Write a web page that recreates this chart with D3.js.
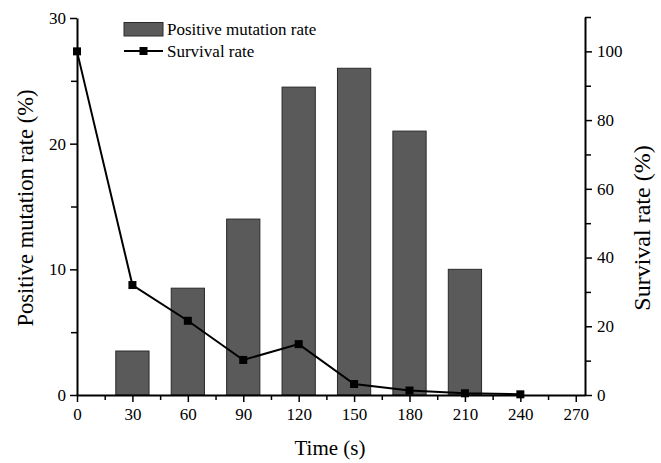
<!DOCTYPE html>
<html>
<head>
<meta charset="utf-8">
<script src="https://cdn.jsdelivr.net/npm/d3@7"></script>
<style>
  body { margin: 0; background: #fff; }
</style>
</head>
<body>
<svg id="chart" width="661" height="463" font-family="Liberation Serif"></svg>
<script>
// Data
const times = [0, 30, 60, 90, 120, 150, 180, 210, 240];
const barTimes = [30, 60, 90, 120, 150, 180, 210];
const mutationRate = [3.5, 8.5, 14.0, 24.5, 26.0, 21.0, 10.0];
const survivalRate = [100, 32, 21.6, 10.2, 14.8, 3.2, 1.3, 0.5, 0.2];
const xTicks = [0, 30, 60, 90, 120, 150, 180, 210, 240, 270];
const leftTicks = [0, 10, 20, 30];
const rightTicks = [0, 20, 40, 60, 80, 100];

const FONT = 'Liberation Serif';
const svg = d3.select('#chart');
const plot = { left: 77, right: 585, top: 17, bottom: 395 };

const x = d3.scaleLinear().domain([0, 275]).range([plot.left, plot.right]);
const yL = d3.scaleLinear().domain([0, 30]).range([plot.bottom, 18]);
const yR = d3.scaleLinear().domain([0, 110]).range([plot.bottom, plot.top]);

const barW = x(18) - x(0);

// Bars
svg.append('g')
  .selectAll('rect')
  .data(barTimes)
  .join('rect')
  .attr('x', (d) => x(d) - barW / 2)
  .attr('width', barW)
  .attr('y', (d, i) => yL(mutationRate[i]))
  .attr('height', (d, i) => plot.bottom - yL(mutationRate[i]))
  .attr('fill', '#5a5a5a')
  .attr('stroke', '#2a2a2a')
  .attr('stroke-width', 1);

// Survival line
const pts = times.map((t, i) => [t, survivalRate[i]]);
svg.append('path')
  .datum(pts)
  .attr('fill', 'none')
  .attr('stroke', '#000')
  .attr('stroke-width', 2)
  .attr('d', d3.line().x((d) => x(d[0])).y((d) => yR(d[1])));

svg.append('g')
  .selectAll('rect')
  .data(pts)
  .join('rect')
  .attr('x', (d) => x(d[0]) - 4)
  .attr('y', (d) => yR(d[1]) - 4)
  .attr('width', 8)
  .attr('height', 8)
  .attr('fill', '#000');

// Axes
function styleAxis(g) {
  g.attr('font-family', FONT).attr('font-size', 17);
  g.selectAll('.domain').attr('stroke', '#000').attr('stroke-width', 2);
  g.selectAll('.tick line').attr('stroke', '#000').attr('stroke-width', 1.5);
  g.selectAll('.tick text').attr('fill', '#000');
}

// minor ticks
svg.append('g')
  .attr('transform', `translate(0,${plot.bottom})`)
  .call(d3.axisBottom(x).tickValues(d3.range(15, 275, 30)).tickSize(5).tickFormat(''))
  .call(styleAxis)
  .select('.domain').remove();

svg.append('g')
  .attr('transform', `translate(0,${plot.bottom})`)
  .call(d3.axisBottom(x).tickValues(xTicks).tickSize(7).tickPadding(6).tickSizeOuter(0))
  .call(styleAxis);

svg.append('g')
  .attr('transform', `translate(${plot.left},0)`)
  .call(d3.axisLeft(yL).tickValues([5, 15, 25]).tickSize(6).tickFormat(''))
  .call(styleAxis)
  .select('.domain').remove();

svg.append('g')
  .attr('transform', `translate(${plot.left},0)`)
  .call(d3.axisLeft(yL).tickValues(leftTicks).tickSize(7).tickPadding(4).tickSizeOuter(0))
  .call(styleAxis);

svg.append('g')
  .attr('transform', `translate(${plot.right},0)`)
  .call(d3.axisRight(yR).tickValues(d3.range(10, 111, 20)).tickSize(6).tickFormat(''))
  .call(styleAxis)
  .select('.domain').remove();

svg.append('g')
  .attr('transform', `translate(${plot.right},0)`)
  .call(d3.axisRight(yR).tickValues(rightTicks).tickSize(7).tickPadding(5).tickSizeOuter(0))
  .call(styleAxis);

// Axis titles
svg.append('text')
  .attr('x', (plot.left + plot.right) / 2 - 1)
  .attr('y', 455)
  .attr('text-anchor', 'middle')
  .attr('font-size', 21)
  .text('Time (s)');

svg.append('text')
  .attr('transform', 'translate(33,208) rotate(-90)')
  .attr('text-anchor', 'middle')
  .attr('font-size', 22.5)
  .text('Positive mutation rate (%)');

svg.append('text')
  .attr('transform', 'translate(650,228) rotate(-90)')
  .attr('text-anchor', 'middle')
  .attr('font-size', 24)
  .text('Survival rate (%)');

// Legend
const legend = svg.append('g');
legend.append('rect')
  .attr('x', 124).attr('y', 22.5).attr('width', 39).attr('height', 13.5)
  .attr('fill', '#5a5a5a').attr('stroke', '#2a2a2a');
legend.append('text')
  .attr('x', 167).attr('y', 35)
  .attr('font-size', 17)
  .text('Positive mutation rate');
legend.append('line')
  .attr('x1', 124).attr('x2', 163).attr('y1', 51).attr('y2', 51)
  .attr('stroke', '#000').attr('stroke-width', 2);
legend.append('rect')
  .attr('x', 139.5).attr('y', 47).attr('width', 8).attr('height', 8)
  .attr('fill', '#000');
legend.append('text')
  .attr('x', 167).attr('y', 57)
  .attr('font-size', 17)
  .text('Survival rate');

svg.selectAll('text').style('font-family', FONT);
</script>
</body>
</html>
